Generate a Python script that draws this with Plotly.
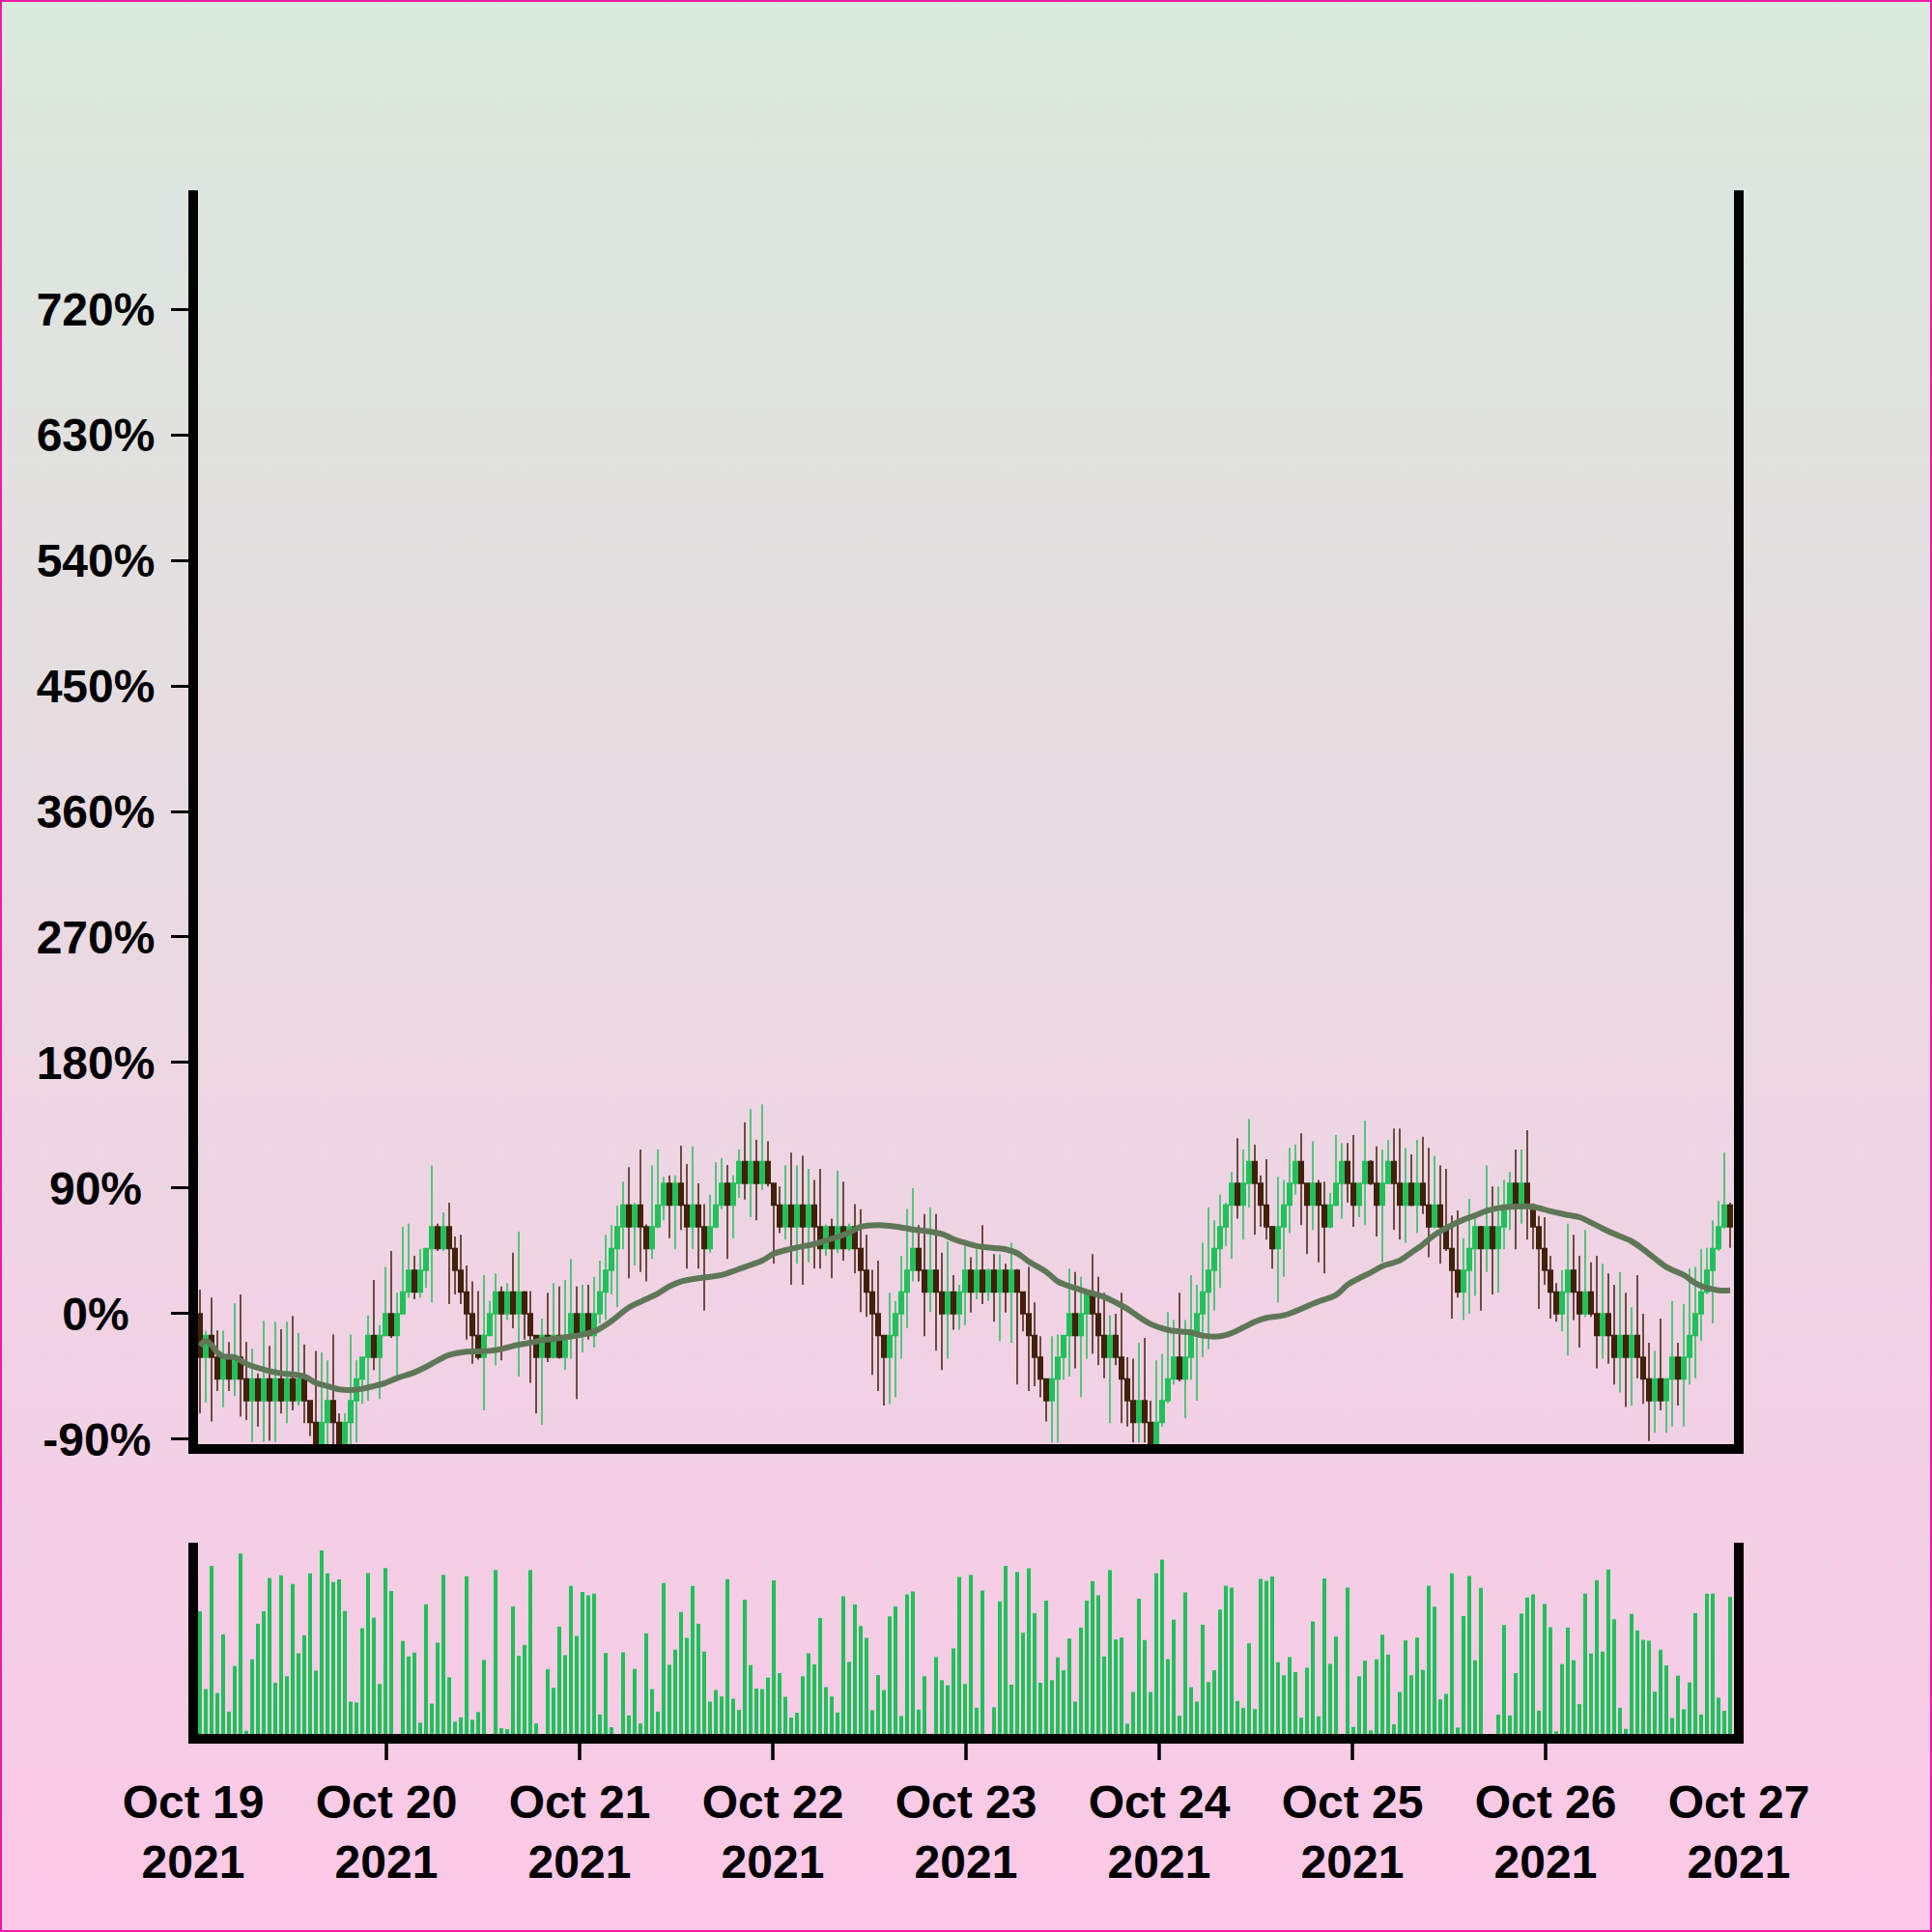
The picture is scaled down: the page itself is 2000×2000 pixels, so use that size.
import base64
import pandas as pd
import plotly.graph_objects as go

# ---------------- data ----------------
times = pd.date_range("2021-10-19 00:50:24", periods=265, freq="2592s")

closes = [
    -31.2, -15.6, -31.2, -46.7, -31.2, -46.7, -31.2, -46.7, -62.3, -46.7, -62.3, -46.7, -62.3, -46.7, -62.3, -46.7, -62.3, -46.7, -62.3, -77.9,
    -93.5, -77.9, -62.3, -77.9, -93.5, -77.9, -62.3, -46.7, -31.2, -15.6, -31.2, -15.6, 0.0, -15.6, 0.0, 15.6, 31.2, 15.6, 31.2, 46.7,
    62.3, 46.7, 62.3, 46.7, 31.2, 15.6, 0.0, -15.6, -31.2, -15.6, 0.0, 15.6, 0.0, 15.6, 0.0, 15.6, 0.0, -15.6, -31.2, -15.6,
    -31.2, -15.6, -31.2, -15.6, 0.0, -15.6, 0.0, -15.6, 0.0, 15.6, 31.2, 46.7, 62.3, 77.9, 62.3, 77.9, 62.3, 46.7, 62.3, 77.9,
    93.5, 77.9, 93.5, 77.9, 62.3, 77.9, 62.3, 46.7, 62.3, 77.9, 93.5, 77.9, 93.5, 109.1, 93.5, 109.1, 93.5, 109.1, 93.5, 77.9,
    62.3, 77.9, 62.3, 77.9, 62.3, 77.9, 62.3, 46.7, 62.3, 46.7, 62.3, 46.7, 62.3, 46.7, 31.2, 15.6, 0.0, -15.6, -31.2, -15.6,
    0.0, 15.6, 31.2, 46.7, 31.2, 15.6, 31.2, 15.6, 0.0, 15.6, 0.0, 15.6, 31.2, 15.6, 31.2, 15.6, 31.2, 15.6, 31.2, 15.6,
    31.2, 15.6, 0.0, -15.6, -31.2, -46.7, -62.3, -46.7, -31.2, -15.6, 0.0, -15.6, 0.0, 15.6, 0.0, -15.6, -31.2, -15.6, -31.2, -46.7,
    -62.3, -77.9, -62.3, -77.9, -93.5, -77.9, -62.3, -46.7, -31.2, -46.7, -31.2, -15.6, 0.0, 15.6, 31.2, 46.7, 62.3, 77.9, 93.5, 77.9,
    93.5, 109.1, 93.5, 77.9, 62.3, 46.7, 62.3, 77.9, 93.5, 109.1, 93.5, 77.9, 93.5, 77.9, 62.3, 77.9, 93.5, 109.1, 93.5, 77.9,
    93.5, 109.1, 93.5, 77.9, 93.5, 109.1, 93.5, 77.9, 93.5, 77.9, 93.5, 77.9, 62.3, 77.9, 62.3, 46.7, 31.2, 15.6, 31.2, 46.7,
    62.3, 46.7, 62.3, 46.7, 62.3, 77.9, 93.5, 77.9, 93.5, 77.9, 62.3, 46.7, 31.2, 15.6, 0.0, 15.6, 31.2, 15.6, 0.0, 15.6,
    0.0, -15.6, 0.0, -15.6, -31.2, -15.6, -31.2, -15.6, -31.2, -46.7, -62.3, -46.7, -62.3, -46.7, -31.2, -46.7, -31.2, -15.6, 0.0, 15.6,
    31.2, 46.7, 62.3, 77.9, 62.3,
]

opens = [
    0.0, -31.2, -15.6, -31.2, -46.7, -31.2, -46.7, -31.2, -46.7, -62.3, -46.7, -62.3, -46.7, -62.3, -46.7, -62.3, -46.7, -62.3, -46.7, -62.3,
    -77.9, -93.5, -77.9, -62.3, -77.9, -93.5, -77.9, -62.3, -46.7, -31.2, -15.6, -31.2, -15.6, 0.0, -15.6, 0.0, 15.6, 31.2, 15.6, 31.2,
    46.7, 62.3, 46.7, 62.3, 46.7, 31.2, 15.6, 0.0, -15.6, -31.2, -15.6, 0.0, 15.6, 0.0, 15.6, 0.0, 15.6, 0.0, -15.6, -31.2,
    -15.6, -31.2, -15.6, -31.2, -15.6, 0.0, -15.6, 0.0, -15.6, 0.0, 15.6, 31.2, 46.7, 62.3, 77.9, 62.3, 77.9, 62.3, 46.7, 62.3,
    77.9, 93.5, 77.9, 93.5, 77.9, 62.3, 77.9, 62.3, 46.7, 62.3, 77.9, 93.5, 77.9, 93.5, 109.1, 93.5, 109.1, 93.5, 109.1, 93.5,
    77.9, 62.3, 77.9, 62.3, 77.9, 62.3, 77.9, 62.3, 46.7, 62.3, 46.7, 62.3, 46.7, 62.3, 46.7, 31.2, 15.6, 0.0, -15.6, -31.2,
    -15.6, 0.0, 15.6, 31.2, 46.7, 31.2, 15.6, 31.2, 15.6, 0.0, 15.6, 0.0, 15.6, 31.2, 15.6, 31.2, 15.6, 31.2, 15.6, 31.2,
    15.6, 31.2, 15.6, 0.0, -15.6, -31.2, -46.7, -62.3, -46.7, -31.2, -15.6, 0.0, -15.6, 0.0, 15.6, 0.0, -15.6, -31.2, -15.6, -31.2,
    -46.7, -62.3, -77.9, -62.3, -77.9, -93.5, -77.9, -62.3, -46.7, -31.2, -46.7, -31.2, -15.6, 0.0, 15.6, 31.2, 46.7, 62.3, 77.9, 93.5,
    77.9, 93.5, 109.1, 93.5, 77.9, 62.3, 46.7, 62.3, 77.9, 93.5, 109.1, 93.5, 77.9, 93.5, 77.9, 62.3, 77.9, 93.5, 109.1, 93.5,
    77.9, 93.5, 109.1, 93.5, 77.9, 93.5, 109.1, 93.5, 77.9, 93.5, 77.9, 93.5, 77.9, 62.3, 77.9, 62.3, 46.7, 31.2, 15.6, 31.2,
    46.7, 62.3, 46.7, 62.3, 46.7, 62.3, 77.9, 93.5, 77.9, 93.5, 77.9, 62.3, 46.7, 31.2, 15.6, 0.0, 15.6, 31.2, 15.6, 0.0,
    15.6, 0.0, -15.6, 0.0, -15.6, -31.2, -15.6, -31.2, -15.6, -31.2, -46.7, -62.3, -46.7, -62.3, -46.7, -31.2, -46.7, -31.2, -15.6, 0.0,
    15.6, 31.2, 46.7, 62.3, 77.9,
]

highs = [
    17.3, -12.2, 11.5, -12.0, -12.2, -20.3, 7.4, 13.8, -20.3, -24.9, -42.7, -5.1, -23.1, -5.8, -11.1, -5.8, -1.6, -13.8, -22.0, -62.3,
    -26.6, -27.7, -33.5, -15.0, -71.5, -71.5, -15.0, -33.5, -31.2, -1.2, 24.2, -8.1, 33.5, 45.0, 15.0, 62.3, 64.6, 41.5, 46.2, 47.0,
    106.2, 64.6, 72.7, 79.6, 55.4, 56.5, 34.6, 23.1, 16.2, 27.7, 9.2, 28.8, 19.6, 21.9, 43.8, 58.8, 16.2, 16.2, -15.6, -3.5,
    15.0, 21.9, 19.6, 24.2, 39.2, 19.6, 20.8, 20.8, 26.5, 38.1, 56.5, 63.5, 77.3, 94.6, 105.0, 79.5, 117.7, 64.0, 106.2, 117.7,
    98.1, 99.2, 99.2, 120.5, 107.3, 120.0, 93.5, 78.5, 85.4, 108.5, 111.5, 106.6, 99.2, 117.7, 137.3, 146.5, 124.6, 150.0, 123.5, 93.5,
    91.2, 106.2, 115.4, 106.2, 113.1, 103.8, 95.8, 103.8, 64.0, 68.1, 102.7, 94.6, 64.6, 78.5, 75.0, 56.5, 31.5, 38.1, -15.6, 15.0,
    9.2, 41.5, 75.0, 90.0, 63.5, 71.5, 76.2, 71.5, 43.8, 51.9, 27.7, 20.8, 48.5, 40.4, 46.2, 63.5, 32.3, 42.7, 42.7, 35.8,
    50.8, 32.0, 16.0, 33.5, 8.1, -16.2, -46.7, -16.2, -15.0, -15.6, 32.3, 30.0, 26.5, 15.6, 42.7, 26.5, 15.0, -1.2, 0.0, 15.0,
    -31.2, -32.3, -20.8, -17.3, -62.3, -33.5, -28.8, 1.2, -4.6, 15.0, -4.6, 27.7, 20.8, 50.8, 76.2, 66.9, 85.4, 79.6, 101.5, 125.8,
    117.7, 139.6, 121.2, 99.2, 110.8, 63.0, 98.1, 95.8, 118.8, 121.2, 129.2, 94.0, 123.5, 95.8, 94.6, 86.5, 128.1, 122.3, 122.3, 128.1,
    94.0, 138.5, 110.0, 120.0, 117.7, 124.6, 132.7, 132.7, 118.8, 114.2, 124.6, 126.9, 118.8, 113.1, 106.2, 103.8, 70.4, 74.0, 54.2, 82.3,
    70.8, 63.0, 106.2, 91.2, 91.2, 95.8, 101.5, 117.7, 117.7, 131.5, 79.0, 70.0, 69.2, 41.5, 21.9, 31.2, 64.6, 56.5, 41.5, 60.0,
    36.9, 41.5, 35.8, 28.8, 20.8, 30.0, 15.0, 4.6, 27.7, 0.0, -20.8, -26.5, -3.5, -46.7, 9.2, -20.8, 6.9, 32.3, 33.5, 46.2,
    47.3, 66.9, 80.8, 115.4, 79.6,
]

lows = [
    -71.5, -63.5, -77.3, -55.4, -67.0, -55.4, -58.8, -73.8, -76.2, -92.0, -80.8, -92.0, -91.0, -92.0, -71.5, -78.5, -69.2, -65.8, -78.5, -87.7,
    -96.0, -96.0, -96.0, -96.0, -96.0, -96.0, -96.0, -92.3, -64.6, -62.3, -40.4, -61.2, -16.2, -17.3, -46.2, -0.5, 11.5, 10.4, 11.5, 18.5,
    8.1, 45.0, 45.0, 6.9, 13.8, 6.9, -18.5, -35.8, -33.0, -69.2, -16.2, -37.0, -33.5, -4.6, -10.4, -45.0, -18.5, -49.6, -71.5, -79.6,
    -34.6, -32.0, -32.3, -40.4, -32.3, -61.2, -27.7, -18.5, -24.2, -6.9, -4.6, 13.8, 4.6, 46.2, 25.4, 34.6, 30.0, 23.1, 39.2, 61.2,
    66.9, 54.2, 46.2, 60.0, 32.3, 46.2, 32.3, 2.3, 43.8, 61.2, 75.0, 39.2, 54.2, 83.1, 81.9, 69.2, 66.9, 88.8, 91.2, 35.8,
    57.7, 53.1, 20.8, 35.8, 20.8, 36.9, 32.3, 32.3, 41.5, 25.4, 43.8, 38.1, 45.0, 28.8, 1.2, -2.3, -43.8, -55.4, -65.8, -64.6,
    -60.0, -32.3, -10.4, 23.1, 23.1, -16.2, 1.2, -26.5, -40.4, -32.3, -11.5, -11.5, -8.1, 0.8, 10.4, 6.9, 9.2, -5.8, -19.6, 0.8,
    -20.8, -50.8, -12.7, -55.4, -51.9, -60.0, -77.3, -92.3, -92.3, -47.3, -45.0, -39.2, -60.0, -32.3, -28.8, -36.9, -46.2, -78.5, -36.9, -78.5,
    -80.8, -92.3, -92.3, -92.3, -96.0, -96.0, -80.8, -64.0, -50.8, -48.5, -75.0, -47.3, -62.3, -31.2, -25.4, 2.3, 18.5, 48.5, 39.2, 68.1,
    53.1, 76.2, 56.5, 62.3, 53.1, 32.3, 8.1, 26.5, 57.7, 85.4, 63.5, 42.7, 60.0, 36.9, 28.8, 61.2, 77.0, 68.1, 79.6, 62.3,
    69.2, 63.5, 92.3, 55.4, 36.9, 93.0, 60.0, 53.1, 50.8, 77.0, 57.7, 71.5, 40.4, 61.0, 35.8, 45.0, -3.5, 11.5, -4.6, 0.0,
    12.7, 2.3, 30.0, 13.8, 15.0, 46.2, 60.0, 46.2, 64.6, 53.1, 46.2, 3.5, 20.8, -3.5, -5.8, -12.7, -30.0, -4.6, -24.2, -2.3,
    -2.3, -39.2, -32.3, -35.8, -50.8, -56.5, -66.9, -65.8, -46.2, -64.6, -91.2, -85.4, -69.2, -85.4, -80.8, -65.8, -80.8, -50.8, -46.2, -19.6,
    13.8, -6.9, 45.0, 61.0, 47.3,
]

volumes = [
    127.7, 46.7, 175.0, 42.7, 103.7, 23.3, 70.7, 187.7, 3.3, 77.7, 114.7, 127.7, 162.3, 53.3, 165.0, 60.0, 156.0, 84.0, 102.7, 167.0,
    66.0, 191.0, 167.0, 158.0, 160.7, 128.0, 33.7, 32.7, 110.0, 167.3, 121.0, 52.0, 172.7, 148.7, 0.0, 96.7, 80.7, 84.7, 11.7, 135.0,
    31.7, 95.0, 165.7, 59.0, 12.7, 17.3, 164.0, 14.7, 22.7, 77.0, 0.0, 170.7, 6.0, 5.0, 132.7, 81.3, 92.7, 170.7, 11.0, 0.0,
    67.3, 48.0, 111.7, 82.0, 154.0, 102.0, 147.7, 144.3, 146.0, 20.3, 84.3, 7.0, 0.0, 85.0, 19.3, 67.7, 11.0, 104.7, 46.7, 23.3,
    157.0, 72.0, 87.7, 127.0, 100.0, 154.0, 114.7, 85.7, 33.7, 45.7, 39.0, 161.0, 36.7, 25.0, 139.7, 71.7, 47.3, 46.7, 58.7, 159.7,
    63.3, 38.7, 17.0, 22.0, 60.0, 84.0, 72.3, 120.7, 48.7, 39.0, 22.3, 143.3, 75.0, 134.7, 112.3, 100.0, 24.7, 61.3, 45.7, 122.3,
    132.7, 18.7, 145.3, 148.3, 25.3, 60.0, 0.0, 80.0, 56.0, 50.7, 89.0, 163.3, 52.0, 165.7, 27.3, 149.3, 0.0, 27.7, 138.0, 175.0,
    51.3, 168.7, 105.3, 172.3, 125.7, 53.3, 138.7, 56.0, 79.7, 66.3, 99.3, 33.7, 110.7, 138.7, 159.0, 144.3, 80.7, 170.7, 98.3, 100.3,
    10.7, 43.7, 140.7, 97.7, 43.7, 167.0, 181.3, 78.0, 119.0, 19.0, 147.3, 48.7, 33.7, 113.7, 54.0, 66.3, 129.3, 154.3, 152.3, 34.3,
    27.0, 94.3, 26.0, 161.3, 159.3, 163.7, 74.7, 61.0, 80.0, 64.3, 17.0, 69.0, 117.0, 18.3, 161.7, 73.0, 101.3, 0.0, 152.3, 7.3,
    60.0, 76.3, 3.7, 77.7, 103.3, 82.7, 10.0, 43.7, 97.3, 61.0, 100.3, 66.7, 154.3, 132.3, 36.0, 41.7, 167.0, 6.7, 122.7, 164.3,
    76.7, 152.0, 0.0, 0.0, 20.0, 113.3, 19.3, 63.3, 125.3, 142.0, 145.3, 24.3, 135.3, 111.0, 2.7, 72.7, 110.7, 76.7, 31.0, 146.0,
    83.7, 160.0, 85.7, 171.0, 119.3, 27.3, 5.3, 125.0, 107.7, 98.0, 97.0, 44.0, 87.7, 71.3, 16.7, 60.7, 25.7, 53.7, 125.7, 20.3,
    146.0, 146.0, 37.7, 24.0, 142.7,
]

ma_idx = [0, 1, 2, 3, 4, 6, 8, 10, 12, 14, 18, 20, 22, 24, 26, 28, 30, 32, 34, 37, 39, 41, 43, 46, 48, 50, 52, 54, 57, 59,
          61, 63, 66, 68, 70, 72, 74, 77, 79, 81, 83, 86, 88, 90, 92, 94, 97, 99, 101, 103, 106, 108, 110, 112, 114, 117, 119,
          121, 123, 126, 128, 130, 132, 134, 137, 139, 141, 143, 146, 148, 149, 151, 153, 156, 158, 160, 162, 164, 167, 169,
          171, 173, 176, 178, 180, 182, 184, 187, 189, 191, 193, 196, 198, 200, 202, 204, 207, 209, 211, 213, 216, 218, 220,
          222, 224, 227, 229, 231, 233, 236, 238, 240, 242, 244, 247, 249, 251, 253, 256, 258, 260, 262, 264]
ma_vals = [-23.1, -19.6, -22.5, -27.7, -30.5, -31.2, -35.8, -38.8, -41.1, -42.7, -45.0, -49.6, -51.9, -54.2, -54.7, -53.8,
           -51.9, -49.6, -46.2, -42.0, -38.1, -33.5, -29.6, -27.2, -27.0, -26.6, -25.4, -23.1, -20.8, -19.0, -18.0, -16.9,
           -15.0, -12.7, -8.1, -2.0, 4.5, 10.5, 14.5, 19.6, 23.1, 25.4, 26.5, 27.7, 30.5, 33.5, 38.0, 43.0, 45.5, 47.5, 50.0,
           52.5, 55.0, 58.1, 62.3, 63.5, 63.0, 61.8, 60.4, 58.8, 57.2, 53.5, 50.8, 48.5, 47.1, 46.2, 43.4, 37.4, 30.0, 23.1,
           21.3, 18.4, 15.7, 12.0, 8.1, 3.5, -2.3, -7.4, -11.6, -12.7, -13.4, -15.7, -16.2, -13.9, -9.9, -5.8, -3.0, -1.2, 1.8,
           5.3, 8.8, 13.4, 20.8, 25.4, 29.5, 34.1, 38.1, 43.8, 49.6, 56.5, 63.5, 67.4, 70.4, 73.8, 75.7, 76.8, 77.0, 75.8,
           73.4, 70.8, 69.2, 65.3, 61.1, 57.2, 51.9, 46.2, 39.7, 33.5, 27.7, 21.9, 18.5, 16.8, 16.8]

# tick labels are centred in the reference: pad the short ones with invisible
# (figure / punctuation / hair) spaces so they sit centred like the long ones
y_tick_vals = [-90, 0, 90, 180, 270, 360, 450, 540, 630, 720]
y_tick_text = ["\u200a-90%\u200a", "\u20070%\u2007", "\u200890%\u2008", "180%", "270%", "360%",
               "450%", "540%", "630%", "720%"]
x_tick_vals = pd.date_range("2021-10-19", "2021-10-27", freq="D")
# the two end dates carry a label but no tick mark in the reference
x_tick_marks = x_tick_vals[1:-1]

# ---------------- styling ----------------
GREEN = "#22c05a"
BROWN = "#42200a"
MA_COLOR = "#5e7757"
W, H = 2000, 2000
ML, MR, MT, MB = 200, 200, 197, 205
PW, PH = W - ML - MR, H - MT - MB
FONT = dict(family="Liberation Sans", size=48, color="black", weight="bold")
LW = 10
XTICK_LEN = 17


def py(y_px):
    """pixel row -> paper y"""
    return (H - MB - y_px) / PH


fig = go.Figure()
fig.add_trace(go.Candlestick(
    x=times, open=opens, high=highs, low=lows, close=closes,
    increasing=dict(line=dict(color=GREEN, width=1.5), fillcolor=GREEN),
    decreasing=dict(line=dict(color=BROWN, width=1.5), fillcolor=BROWN),
    xaxis="x", yaxis="y", showlegend=False, name="price",
))
fig.add_trace(go.Scatter(
    x=[times[i] for i in ma_idx], y=ma_vals, mode="lines",
    line=dict(color=MA_COLOR, width=6, shape="spline"),
    xaxis="x", yaxis="y", showlegend=False, name="MA",
))
fig.add_trace(go.Bar(
    x=times, y=volumes, marker=dict(color=GREEN, line=dict(width=0)),
    xaxis="x2", yaxis="y2", showlegend=False, name="volume",
))

svg = ('<svg xmlns="http://www.w3.org/2000/svg" width="2000" height="2000">'
       '<defs><linearGradient id="g" x1="0" y1="0" x2="0" y2="1">'
       '<stop offset="0" stop-color="#d9e9dd"/><stop offset="1" stop-color="#fbc8e7"/>'
       '</linearGradient></defs><rect width="2000" height="2000" fill="url(#g)"/></svg>')
bg_src = "data:image/svg+xml;base64," + base64.b64encode(svg.encode()).decode()

x_range = ["2021-10-19 00:00:00", "2021-10-27 00:00:00"]
main_bottom = 1495
vol_top = 1597

# vertical frame lines centred on the plot edges (as in the reference)
frame = []
for x in (0, 1):
    frame.append(dict(type="line", xref="paper", yref="paper", x0=x, x1=x,
                      y0=py(main_bottom + LW), y1=1.0, line=dict(color="black", width=LW)))
    frame.append(dict(type="line", xref="paper", yref="paper", x0=x, x1=x,
                      y0=py(H - MB + LW), y1=py(vol_top), line=dict(color="black", width=LW)))
# date tick marks below the volume panel
for d in x_tick_marks:
    frame.append(dict(type="line", xref="x2", yref="paper", x0=d, x1=d,
                      y0=py(H - MB + LW), y1=py(H - MB + LW + XTICK_LEN),
                      line=dict(color="black", width=3.5)))

fig.update_layout(
    width=W, height=H,
    margin=dict(l=ML, r=MR, t=MT, b=MB),
    paper_bgcolor="#e9dde6",
    plot_bgcolor="rgba(0,0,0,0)",
    showlegend=False,
    bargap=0.33,
    boxgap=0.25,
    boxgroupgap=0,
    xaxis=dict(domain=[0, 1], anchor="y", range=x_range, showline=True, linewidth=LW,
               linecolor="black", showticklabels=False, ticks="", showgrid=False,
               zeroline=False, rangeslider=dict(visible=False)),
    yaxis=dict(domain=[py(main_bottom), 1], anchor="x", range=[-93.5, 805.2],
               showline=False, ticks="outside", ticklen=22, tickwidth=3, tickcolor="black",
               tickvals=y_tick_vals, ticktext=y_tick_text, tickfont=FONT,
               ticklabelstandoff=7, showgrid=False, zeroline=False),
    xaxis2=dict(domain=[0, 1], anchor="y2", range=x_range, showline=True, linewidth=LW,
                linecolor="black", ticks="", tickvals=x_tick_vals,
                tickformat="%b %d<br>%Y", ticklabelstandoff=XTICK_LEN + 2,
                tickfont=FONT, showgrid=False, zeroline=False),
    yaxis2=dict(domain=[0, py(vol_top)], anchor="x2", range=[0, 199],
                showline=False, showticklabels=False, ticks="", showgrid=False, zeroline=False),
    images=[dict(source=bg_src, xref="paper", yref="paper", x=-ML / PW, y=1 + MT / PH,
                 sizex=W / PW, sizey=H / PH, xanchor="left", yanchor="top",
                 sizing="stretch", layer="below")],
    shapes=frame + [dict(type="rect", xref="paper", yref="paper", x0=-ML / PW, x1=1 + MR / PW,
                         y0=-MB / PH, y1=1 + MT / PH, line=dict(color="#f21aa5", width=4),
                         fillcolor="rgba(0,0,0,0)")],
)

fig.write_html("out.html", config={"displayModeBar": False},
               post_script="document.body.style.margin='0';")
